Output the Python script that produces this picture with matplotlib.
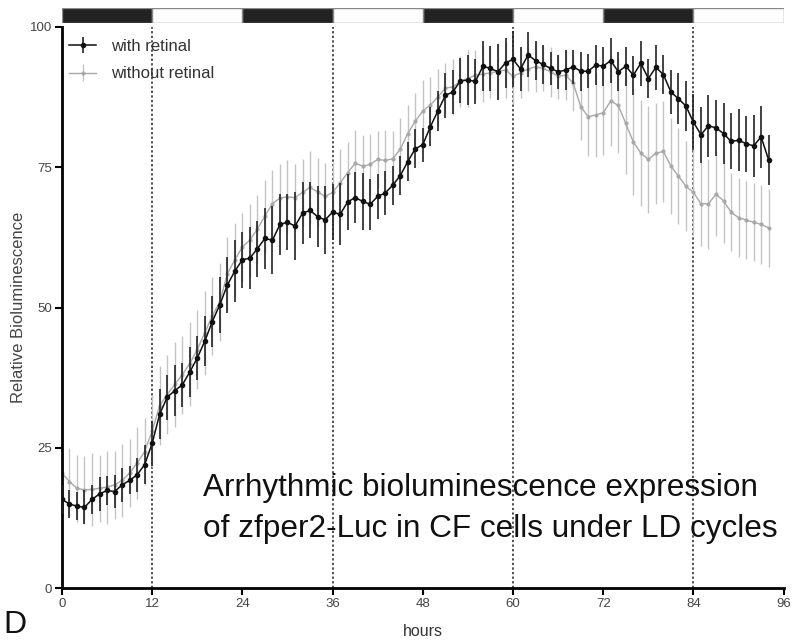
import numpy as np
import matplotlib.pyplot as plt
from matplotlib.patches import Rectangle

plt.rcParams['font.family'] = ['Liberation Sans', 'DejaVu Sans']

# hourly samples, 0..94 h
hours = list(range(95))

with_retinal = [15.8, 15.0, 14.6, 14.4, 15.8, 16.8, 17.4, 17.2, 18.4, 19.2,
                20.2, 22.0, 25.8, 31.0, 34.0, 35.2, 36.2, 38.5, 41.0, 44.0,
                47.5, 50.5, 54.0, 56.5, 58.5, 58.8, 60.5, 62.3, 62.0, 64.8,
                65.2, 64.5, 66.8, 67.3, 66.2, 65.6, 67.0, 66.6, 68.8, 69.6,
                68.9, 68.4, 69.8, 70.4, 71.8, 73.5, 76.0, 78.3, 79.0, 82.2,
                85.0, 87.8, 88.4, 90.4, 90.5, 90.3, 93.0, 92.6, 92.0, 93.6,
                94.2, 92.5, 95.0, 94.0, 93.3, 92.6, 92.0, 92.3, 92.9, 92.1,
                92.1, 93.2, 93.0, 94.0, 92.0, 93.0, 91.4, 93.5, 90.8, 92.8,
                91.5, 88.4, 87.2, 85.9, 83.0, 80.8, 82.4, 82.0, 81.0, 79.6,
                79.8, 79.2, 78.8, 80.4, 76.3]
with_err = [2.5, 2.5, 2.5, 3.0, 2.5, 3.0, 2.5, 3.0, 3.0, 2.5,
            3.0, 3.5, 4.0, 4.5, 4.0, 4.5, 4.0, 4.5, 4.0, 4.5,
            4.5, 5.0, 5.0, 5.5, 5.0, 5.5, 5.0, 5.5, 6.0, 5.5,
            5.0, 6.0, 5.5, 5.0, 5.5, 6.0, 5.0, 5.5, 5.0, 4.5,
            5.0, 4.5, 4.0, 4.0, 3.5, 3.5, 3.5, 3.5, 3.0, 3.5,
            3.5, 4.0, 4.0, 4.0, 4.5, 4.0, 4.5, 4.0, 5.0, 4.5,
            5.0, 4.0, 4.0, 3.5, 3.5, 3.0, 3.0, 3.5, 3.0, 3.5,
            3.0, 3.5, 3.5, 4.0, 3.5, 3.5, 3.5, 4.0, 3.5, 4.0,
            3.5, 4.0, 4.5, 4.5, 5.0, 5.0, 5.5, 5.0, 5.5, 5.0,
            5.5, 5.0, 5.5, 5.5, 4.5]

without_retinal = [20.5, 19.0, 17.8, 17.5, 17.6, 17.8, 18.0, 18.4, 19.2, 20.5,
                   22.3, 24.3, 28.0, 32.5, 34.5, 36.3, 38.0, 40.0, 42.5, 45.5,
                   48.5, 51.0, 56.0, 58.5, 60.8, 62.0, 64.0, 66.3, 68.5, 69.5,
                   69.7, 69.6, 70.5, 71.4, 70.6, 69.8, 70.5, 72.2, 74.0, 75.7,
                   75.2, 75.5, 76.4, 76.2, 76.5, 78.2, 81.0, 83.2, 85.0, 86.1,
                   87.5, 89.1, 89.3, 90.3, 90.8, 91.4, 91.6, 91.8, 92.1, 92.3,
                   91.2, 91.8, 92.5, 92.9, 92.6, 92.0, 91.2, 91.4, 90.0, 85.8,
                   84.0, 84.3, 84.7, 86.8, 86.0, 82.8, 79.5, 77.5, 76.4, 77.5,
                   77.8, 75.2, 73.4, 71.6, 70.5, 68.5, 68.5, 70.2, 69.0, 67.0,
                   66.0, 65.6, 65.2, 64.8, 64.2]
without_err = [5.5, 6.0, 6.0, 6.0, 6.5, 6.0, 6.5, 6.0, 6.5, 6.0,
               6.5, 6.0, 6.5, 7.0, 7.0, 7.5, 7.0, 7.5, 7.0, 7.5,
               7.0, 7.0, 6.5, 6.5, 6.0, 6.5, 6.0, 6.5, 6.0, 6.0,
               6.5, 6.0, 6.0, 6.5, 6.0, 6.0, 5.5, 6.0, 5.5, 6.0,
               5.5, 5.5, 5.0, 5.5, 5.0, 5.5, 5.0, 5.0, 5.5, 5.0,
               5.0, 4.5, 5.0, 4.5, 5.0, 4.5, 5.0, 4.5, 5.0, 5.0,
               5.0, 4.5, 4.0, 4.5, 4.0, 4.5, 4.0, 4.5, 5.0, 6.0,
               7.0, 7.5, 7.5, 8.0, 8.5, 9.0, 9.5, 9.5, 9.5, 9.0,
               9.0, 8.5, 8.5, 8.0, 7.5, 7.5, 8.0, 7.5, 7.5, 7.0,
               7.0, 7.0, 7.0, 7.0, 7.0]

dark_starts = [0, 24, 48, 72]
light_starts = [12, 36, 60, 84]

fig = plt.figure(figsize=(7.94, 6.4), dpi=100)
ax = fig.add_axes([0.078, 0.081, 0.909, 0.877])

ax.errorbar(hours, without_retinal, yerr=without_err, color='#a8a8a8',
            ecolor='#c4c4c4', elinewidth=1.0, capsize=0, marker='o',
            markersize=2, linewidth=1.0, label='without retinal', zorder=2)
ax.errorbar(hours, with_retinal, yerr=with_err, color='#111111',
            ecolor='#222222', elinewidth=1.2, capsize=0, marker='o',
            markersize=3, linewidth=1.1, label='with retinal', zorder=3)

for h in light_starts:
    ax.axvline(h, color='#222222', linestyle=(0, (1.5, 1.5)), linewidth=1.1, zorder=1)

ax.set_xlim(0, 96)
ax.set_ylim(0, 100)
ax.set_xticks(range(0, 97, 12))
ax.set_yticks([0, 25, 50, 75, 100])
for s in ['top', 'right']:
    ax.spines[s].set_visible(False)
for s in ['left', 'bottom']:
    ax.spines[s].set_linewidth(2)
ax.tick_params(direction='out', length=5, width=1.5, labelsize=9.5, labelcolor='#444444', pad=2)
ax.set_xlabel('hours', fontsize=11.5, color='#333333', labelpad=10)
ax.set_ylabel('Relative Bioluminescence', fontsize=12, color='#444444', labelpad=3)

handles, labels = ax.get_legend_handles_labels()
leg = ax.legend(handles[::-1], labels[::-1], loc='upper left', frameon=False,
                fontsize=12, bbox_to_anchor=(0.0, 0.992), handlelength=1.6,
                handletextpad=0.9, labelspacing=0.75, borderaxespad=0.0,
                borderpad=0.45)
for t in leg.get_texts():
    t.set_color('#333333')

# light/dark bar above the plot
bar = fig.add_axes([0.078, 0.964, 0.909, 0.0234])
bar.set_xlim(0, 96)
bar.set_ylim(0, 1)
bar.axis('off')
for h in dark_starts:
    bar.add_patch(Rectangle((h, 0), 12, 1, facecolor='#222222', edgecolor='#888888', linewidth=1))
for h in light_starts:
    bar.add_patch(Rectangle((h, 0), 12, 1, facecolor='white', edgecolor='#888888', linewidth=1))

fig.text(0.256, 0.2055, 'Arrhythmic bioluminescence expression\nof zfper2-Luc in CF cells under LD cycles',
         fontsize=22.7, color='#111111', linespacing=1.44, va='center', ha='left')
fig.text(0.004, 0.0, 'D', fontsize=23, color='#111111', va='bottom', ha='left')

plt.savefig('out.png', dpi=100)
